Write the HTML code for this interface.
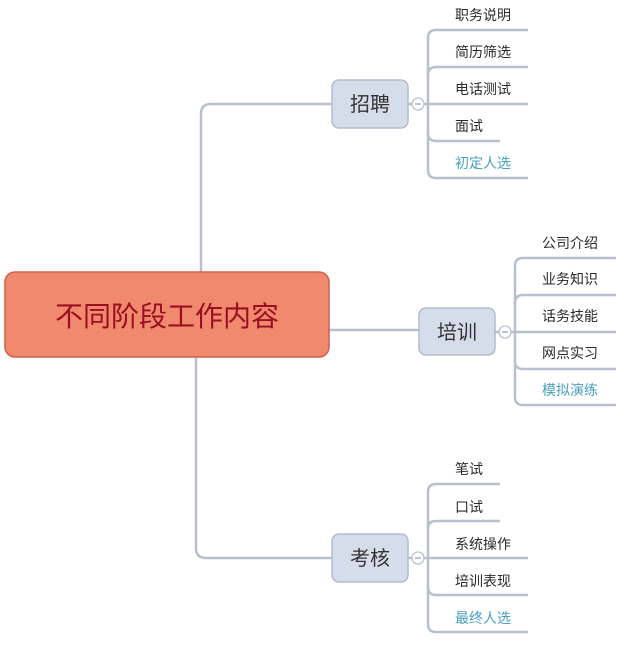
<!DOCTYPE html>
<html><head><meta charset="utf-8"><style>
html,body{margin:0;padding:0;background:#fff;}
svg{display:block;}
text{font-family:"Liberation Sans","Noto Sans CJK SC",sans-serif;}
</style></head><body>
<svg width="628" height="648" viewBox="0 0 628 648" xmlns="http://www.w3.org/2000/svg">
<g fill="none" stroke="#b9c0cd" stroke-width="2.5">
<path d="M201,272 V114 Q201,104 211,104 H332"/>
<path d="M329,330 H419"/>
<path d="M196,357 V548 Q196,558 206,558 H332"/>
<path d="M408,104 H412 M424,104 H528"/>
<path d="M528,30 H436 Q428,30 428,38 V170 Q428,178 436,178 H528"/>
<path d="M428,75 Q428,67 436,67 H528"/>
<path d="M428,133 Q428,141 436,141 H500"/>
<path d="M495,332 H499 M511,332 H616"/>
<path d="M616,258 H523 Q515,258 515,266 V397 Q515,405 523,405 H616"/>
<path d="M515,303 Q515,295 523,295 H616"/>
<path d="M515,361 Q515,369 523,369 H616"/>
<path d="M408,558 H412 M424,558 H528"/>
<path d="M500,484 H436 Q428,484 428,492 V624 Q428,632 436,632 H528"/>
<path d="M428,529 Q428,521 436,521 H500"/>
<path d="M428,587 Q428,595 436,595 H528"/>
</g>
<g fill="#fff" stroke="#b9c0cd" stroke-width="1.3">
<circle cx="418" cy="104" r="6"/>
<circle cx="505" cy="332" r="6"/>
<circle cx="418" cy="558" r="6"/>
</g>
<g stroke="#9aa2b2" stroke-width="1.2">
<path d="M415,104 H421 M502,332 H508 M415,558 H421"/>
</g>
<rect x="5" y="272" width="324" height="85" rx="10" fill="#f1896f" stroke="#cf5f4b" stroke-width="1.5"/>
<text x="167" y="326" font-size="28" fill="#9a1022" text-anchor="middle">不同阶段工作内容</text>
<g fill="#d6ddea" stroke="#b4bccc" stroke-width="1.5">
<rect x="332" y="80" width="76" height="48" rx="7"/>
<rect x="419" y="308" width="76" height="47" rx="7"/>
<rect x="332" y="534" width="76" height="48" rx="7"/>
</g>
<g font-size="20" fill="#333" text-anchor="middle">
<text x="370" y="111">招聘</text>
<text x="457" y="339">培训</text>
<text x="370" y="565">考核</text>
</g>
<g font-size="14" fill="#2a2a2a">
<text x="455" y="20">职务说明</text>
<text x="455" y="57">简历筛选</text>
<text x="455" y="94">电话测试</text>
<text x="455" y="131">面试</text>
<text x="455" y="168" fill="#4a9fc0">初定人选</text>
<text x="542" y="248">公司介绍</text>
<text x="542" y="284">业务知识</text>
<text x="542" y="321">话务技能</text>
<text x="542" y="358">网点实习</text>
<text x="542" y="395" fill="#4a9fc0">模拟演练</text>
<text x="455" y="474">笔试</text>
<text x="455" y="512">口试</text>
<text x="455" y="549">系统操作</text>
<text x="455" y="586">培训表现</text>
<text x="455" y="623" fill="#4a9fc0">最终人选</text>
</g>
</svg>
</body></html>
